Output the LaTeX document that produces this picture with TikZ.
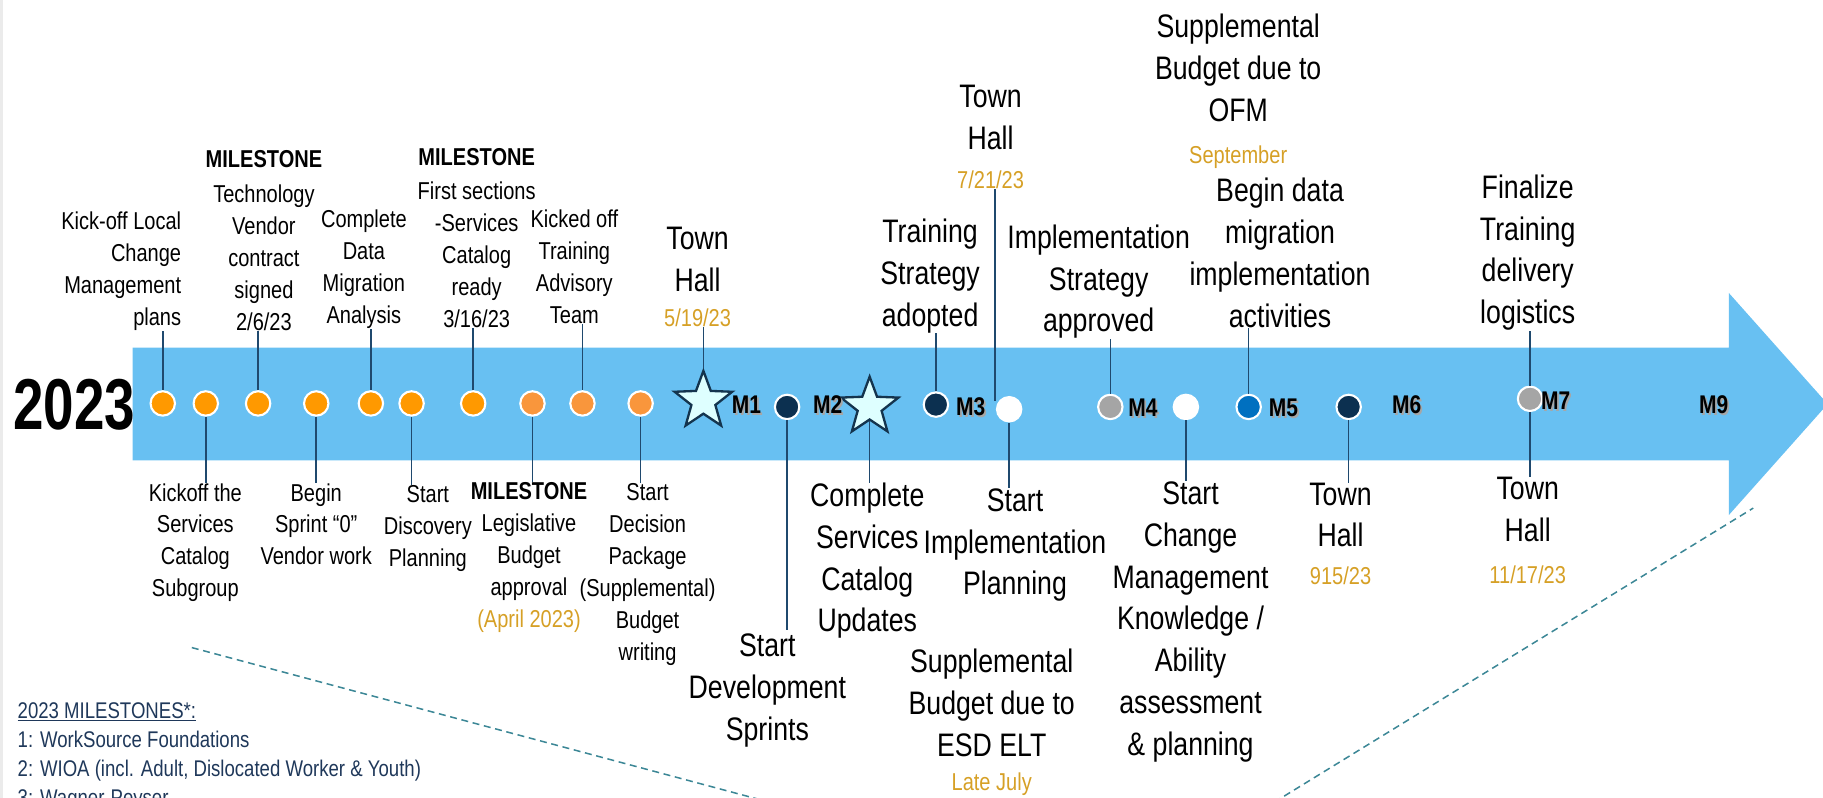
\documentclass[tikz,border=0pt]{standalone}
\usepackage{fontspec}
\setmainfont{Liberation Sans}[FakeStretch=0.82]
\newfontfamily\yearfont{Liberation Sans}[FakeStretch=0.76]
\usetikzlibrary{shapes.geometric}

\definecolor{arrowblue}{RGB}{104,192,242}
\definecolor{orng}{RGB}{255,153,0}
\definecolor{orngb}{RGB}{249,150,60}
\definecolor{navy}{RGB}{12,48,80}
\definecolor{dotgray}{RGB}{165,165,165}
\definecolor{dotblue}{RGB}{0,112,192}
\definecolor{starfill}{RGB}{222,255,255}
\definecolor{starline}{RGB}{20,52,78}
\definecolor{stemcol}{RGB}{31,73,110}
\definecolor{datecol}{RGB}{214,160,38}
\definecolor{legendcol}{RGB}{31,56,90}
\definecolor{dashcol}{RGB}{60,135,150}

\newcommand{\datetext}[1]{{\fontsize{21}{21}\selectfont\color{datecol}#1}}

\begin{document}
\begin{tikzpicture}[x=1pt,y=-1pt,
    dot/.style={circle,draw=white,line width=1.8pt,minimum size=21pt,inner sep=0pt},
    mstar/.style={star,star points=5,star point ratio=2.4,minimum size=52pt,inner sep=0pt,draw=starline,fill=starfill,line width=2pt},
    stem/.style={draw=stemcol,line width=1.3pt},
    lbl/.style={align=center,inner sep=0pt,font=\fontsize{21}{27.5}\selectfont},
    biglbl/.style={align=center,inner sep=0pt,font=\fontsize{28}{36}\selectfont},
    mlbl/.style={inner sep=0pt,font=\bfseries\fontsize{22}{22}\selectfont},
    mshade/.style={mlbl,text=black!35},
    dashline/.style={draw=dashcol,line width=1.3pt,dash pattern=on 6pt off 4pt}]
        \useasboundingbox (0,0) rectangle (1568,686);
        \clip (0,0) rectangle (1568,686);
        \fill[black!8] (0,0) rectangle (3,686);

        \fill[arrowblue] (114,299) -- (1487,299) -- (1487,252) -- (1572,347.5) -- (1487,443) -- (1487,396) -- (114,396) -- cycle;
        \node[inner sep=0pt,font=\yearfont\bfseries\fontsize{62}{62}\selectfont] (year) at (64,348) {2023};

        \coordinate (dl1) at (165,557);
        \coordinate (dl2) at (662,690);
        \coordinate (dr1) at (1096,690);
        \coordinate (dr2) at (1508,437);
        \draw[dashline] (dl1) -- (dl2);
        \draw[dashline] (dr1) -- (dr2);

        \node[lbl,align=right,anchor=north east] (lA) at (156,182) {Kick-off Local\\Change\\Management\\plans};
        \node[lbl,anchor=north] (lB) at (227,129.5) {\textbf{MILESTONE}\\[2pt]Technology\\Vendor\\contract\\signed\\2/6/23};
        \node[lbl,anchor=north] (lC) at (313,180.5) {Complete\\Data\\Migration\\Analysis};
        \node[lbl,anchor=north] (lD) at (410,127.5) {\textbf{MILESTONE}\\[2pt]First sections\\-Services\\Catalog\\ready\\3/16/23};
        \node[lbl,anchor=north] (lE) at (494,180.5) {Kicked off\\Training\\Advisory\\Team};
        \node[biglbl,anchor=north] (lF) at (600,195) {Town\\Hall\\[-6pt]\datetext{5/19/23}};
        \node[biglbl,anchor=north] (lG) at (800,188) {Training\\Strategy\\adopted};
        \node[biglbl,anchor=north] (lH) at (852,73) {Town\\Hall\\[-2pt]\datetext{7/21/23}};
        \node[biglbl,anchor=north] (lI) at (945,193) {Implementation\\Strategy\\approved};
        \node[biglbl,anchor=north] (lJ) at (1065,12) {Supplemental\\Budget due to\\OFM\\\datetext{September}};
        \node[biglbl,anchor=north] (lK) at (1101,153) {Begin data\\migration\\implementation\\activities};
        \node[biglbl,anchor=north] (lL) at (1314,150) {Finalize\\Training\\delivery\\logistics};

        \node[lbl,anchor=north] (la) at (168,415.5) {Kickoff the\\Services\\Catalog\\Subgroup};
        \node[lbl,anchor=north] (lb) at (272,415.5) {Begin\\Sprint ``0''\\Vendor work};
        \node[lbl,anchor=north] (lc) at (368,417.5) {Start\\Discovery\\Planning};
        \node[lbl,anchor=north] (ld) at (455,414.5) {\textbf{MILESTONE}\\Legislative\\Budget\\approval\\\datetext{(April 2023)}};
        \node[lbl,anchor=north] (le) at (557,415.5) {Start\\Decision\\Package\\(Supplemental)\\Budget\\writing};
        \node[biglbl,anchor=north] (lf) at (660,545) {Start\\Development\\Sprints};
        \node[biglbl,anchor=north] (lg) at (746,415) {Complete\\Services\\Catalog\\Updates};
        \node[biglbl,anchor=north] (lh) at (873,420) {Start\\Implementation\\Planning};
        \node[biglbl,anchor=north] (li) at (853,558) {Supplemental\\Budget due to\\ESD ELT\\[-7pt]\datetext{Late July}};
        \node[biglbl,anchor=north] (lj) at (1024,414) {Start\\Change\\Management\\Knowledge /\\Ability\\assessment\\\& planning};
        \node[biglbl,anchor=north] (lk) at (1153,415) {Town\\Hall\\[-4pt]\datetext{915/23}};
        \node[biglbl,anchor=north] (ll) at (1314,410) {Town\\Hall\\\datetext{11/17/23}};

        \coordinate (hb) at (856,345);
        \draw[stem] (hb |- lH.south) -- (hb);

        \node[dot,fill=orng] (d1) at (140,347) {};
        \node[dot,fill=orng] (d2) at (177,347) {};
        \node[dot,fill=orng] (d3) at (222,347) {};
        \node[dot,fill=orng] (d4) at (272,347) {};
        \node[dot,fill=orng] (d5) at (319,347) {};
        \node[dot,fill=orng] (d6) at (354,347) {};
        \node[dot,fill=orng] (d7) at (407,347) {};
        \node[dot,fill=orngb] (d8) at (458,347) {};
        \node[dot,fill=orngb] (d9) at (501,347) {};
        \node[dot,fill=orngb] (d10) at (551,347) {};
        \node[mstar] (s1) at (605,345) {};
        \node[dot,fill=navy] (d11) at (677,350) {};
        \node[mstar] (s2) at (748,350) {};
        \node[dot,fill=navy] (d12) at (805,348) {};
        \node[dot,fill=white] (d13) at (868,352) {};
        \node[dot,fill=dotgray] (d14) at (955,350) {};
        \node[dot,fill=white] (d15) at (1020,350) {};
        \node[dot,fill=dotblue] (d16) at (1074,350) {};
        \node[dot,fill=navy] (d17) at (1160,350) {};
        \node[dot,fill=dotgray] (d18) at (1316,343) {};

        \draw[stem] (d1) -- (d1 |- lA.south);
        \draw[stem] (d2) -- (d2 |- la.north);
        \draw[stem] (d3) -- (d3 |- lB.south);
        \draw[stem] (d4) -- (d4 |- lb.north);
        \draw[stem] (d5) -- (d5 |- lC.south);
        \draw[stem] (d6) -- (d6 |- lc.north);
        \draw[stem] (d7) -- (d7 |- lD.south);
        \draw[stem] (d8) -- (d8 |- ld.north);
        \draw[stem] (d9) -- (d9 |- lE.south);
        \draw[stem] (d10) -- (d10 |- le.north);
        \draw[stem] (s1) -- (s1 |- lF.south);
        \draw[stem,shorten >=3pt] (d11) -- (d11 |- lf.north);
        \draw[stem] (s2) -- (s2 |- lg.north);
        \draw[stem] (d12) -- (d12 |- lG.south);
        \draw[stem] (d13) -- (d13 |- lh.north);
        \draw[stem] (d14) -- (d14 |- lI.south);
        \draw[stem] (d15) -- (d15 |- lj.north);
        \draw[stem] (d16) -- (d16 |- lK.south);
        \draw[stem] (d17) -- (d17 |- lk.north);
        \draw[stem] (d18) -- (d18 |- lL.south);
        \draw[stem] (d18) -- (d18 |- ll.north);

        \node[mshade] (m1s) at (643.5,349.5) {M1};
        \node[mlbl] (m1) at (642,348) {M1};
        \node[mshade] (m2s) at (713.5,349.5) {M2};
        \node[mlbl] (m2) at (712,348) {M2};
        \node[mshade] (m3s) at (836.5,351.5) {M3};
        \node[mlbl] (m3) at (835,350) {M3};
        \node[mshade] (m4s) at (984.5,352.5) {M4};
        \node[mlbl] (m4) at (983,351) {M4};
        \node[mshade] (m5s) at (1105.5,352.5) {M5};
        \node[mlbl] (m5) at (1104,351) {M5};
        \node[mshade] (m6s) at (1211.5,349.5) {M6};
        \node[mlbl] (m6) at (1210,348) {M6};
        \node[mshade] (m7s) at (1339.5,346.5) {M7};
        \node[mlbl] (m7) at (1338,345) {M7};
        \node[mshade] (m9s) at (1475.5,349.5) {M9};
        \node[mlbl] (m9) at (1474,348) {M9};

        \node[anchor=north west,align=left,inner sep=0pt,text=legendcol,font=\fontsize{19.5}{25}\selectfont] (legend) at (15,604) {\underline{2023 MILESTONES*:}\\1: WorkSource Foundations\\2: WIOA (incl. Adult, Dislocated Worker \& Youth)\\3: Wagner-Peyser};
\end{tikzpicture}
\end{document}
